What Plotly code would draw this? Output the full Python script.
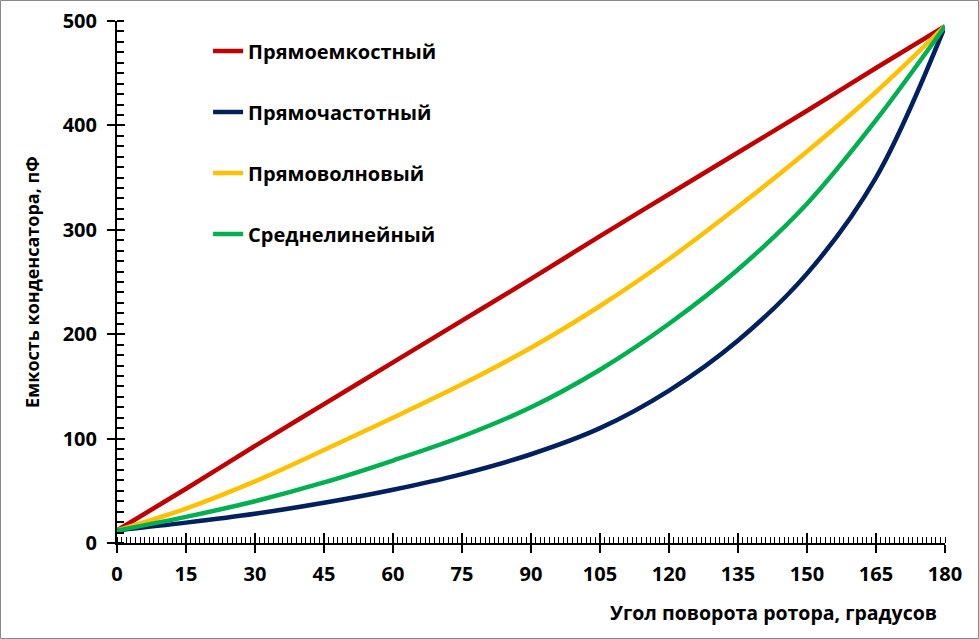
import plotly.graph_objects as go

# углы поворота ротора, градусы
angles = [0, 15, 30, 45, 60, 75, 90, 105, 120, 135, 150, 165, 180]

# емкость, пФ
c_straight_cap = [12, 52, 93, 133, 173, 213, 253, 294, 334, 374, 414, 455, 495]
c_straight_freq = [12, 19.5, 28, 38.5, 51, 66, 85, 110, 146, 194, 258, 350, 495]
c_straight_wave = [12, 33, 59, 89, 120, 152, 187, 227, 272, 322, 375, 432, 495]
c_mid_line = [12, 25, 40, 58, 79, 102, 130, 166, 210, 262, 325, 405, 495]

series_names = ["Прямоемкостный", "Прямочастотный", "Прямоволновый", "Среднелинейный"]
series_colors = ["#c00000", "#002060", "#ffc000", "#00b050"]

x_ticks = list(range(0, 181, 15))
y_ticks = list(range(0, 501, 100))

FONT = "Open Sans"

fig = go.Figure()
for i, (name, vals) in enumerate(zip(series_names,
                                     [c_straight_cap, c_straight_freq, c_straight_wave, c_mid_line])):
    fig.add_trace(go.Scatter(
        x=angles, y=vals, name=name, mode="lines",
        line=dict(color=series_colors[i], width=4.5, shape="spline", smoothing=1.0),
        legendgroup=f"g{i}",
    ))

# невидимый след, чтобы показать вторые оси (внутренние половинки больших засечек)
fig.add_trace(go.Scatter(x=[0, 180], y=[0, 500], xaxis="x2", yaxis="y2",
                         mode="lines", line=dict(width=0), showlegend=False,
                         hoverinfo="skip"))

axis_font = dict(family=FONT, size=20, color="black", weight="bold")

fig.update_layout(
    width=979, height=639,
    margin=dict(l=117, r=34, t=21, b=96),
    paper_bgcolor="white", plot_bgcolor="white",
    font=dict(family=FONT, color="black"),
    showlegend=True,
    legend=dict(x=0.110, y=0.980, xanchor="left", yanchor="top",
                bgcolor="rgba(0,0,0,0)", tracegroupgap=32,
                font=dict(family=FONT, size=20, color="black", weight="bold"),
                itemwidth=30),
    xaxis=dict(range=[0, 180], tickvals=x_ticks, ticks="outside", ticklen=8,
               tickwidth=2, tickcolor="black", showline=True, linecolor="black",
               linewidth=2, showgrid=False, zeroline=False, tickfont=axis_font,
               ticklabelstandoff=4, automargin=False,
               minor=dict(dtick=1, ticks="inside", ticklen=6, tickwidth=1.3,
                          tickcolor="black", showgrid=False)),
    yaxis=dict(range=[0, 500], tickvals=y_ticks, ticks="outside", ticklen=8,
               tickwidth=2, tickcolor="black", showline=True, linecolor="black",
               linewidth=2, showgrid=False, zeroline=False, tickfont=axis_font,
               ticklabelstandoff=6, automargin=False,
               minor=dict(dtick=10, ticks="inside", ticklen=7, tickwidth=1.5,
                          tickcolor="black", showgrid=False)),
    xaxis2=dict(range=[0, 180], tickvals=x_ticks, ticks="inside", ticklen=10,
                tickwidth=2, tickcolor="black", showticklabels=False,
                showline=False, showgrid=False, zeroline=False, automargin=False,
                overlaying="x", anchor="y", side="bottom"),
    yaxis2=dict(range=[0, 500], tickvals=y_ticks, ticks="inside", ticklen=8,
                tickwidth=2, tickcolor="black", showticklabels=False,
                showline=False, showgrid=False, zeroline=False, automargin=False,
                overlaying="y", anchor="x", side="left"),
)

# подписи осей
fig.add_annotation(text="Емкость конденсатора, пФ", xref="paper", yref="paper",
                   x=(32 - 117) / 828, y=0.5, textangle=-90, showarrow=False,
                   xanchor="center", yanchor="middle",
                   font=dict(family=FONT, size=18, color="black", weight="bold"))
fig.add_annotation(text="Угол поворота ротора, градусов", xref="paper", yref="paper",
                   x=(773 - 117) / 828, y=(543 - 612) / 522, showarrow=False,
                   xanchor="center", yanchor="middle",
                   font=dict(family=FONT, size=19.5, color="black", weight="bold"))

# серая рамка вокруг картинки
fig.add_shape(type="rect", xref="paper", yref="paper",
              x0=(0.5 - 117) / 828, x1=(978.5 - 117) / 828,
              y0=(543 - 638.5) / 522, y1=(543 - 0.5) / 522,
              line=dict(color="#888888", width=1))

# убираем стандартный отступ body, чтобы картинка встала ровно в окно
fig.write_html("out.html", config={"displayModeBar": False},
               post_script="document.body.style.margin='0';")
